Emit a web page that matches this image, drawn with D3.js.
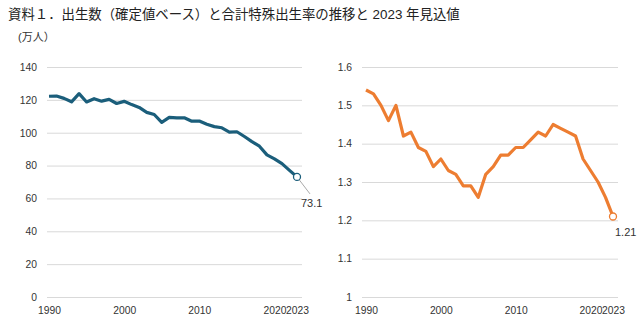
<!DOCTYPE html>
<html>
<head>
<meta charset="utf-8">
<script src="https://cdn.jsdelivr.net/npm/d3@7"></script>
<style>
  body { margin: 0; background: #fff; }
  svg text { font-family: "Liberation Sans", Arial, "Noto Sans CJK JP", sans-serif; }
  .grid line { stroke: #d9d9d9; stroke-width: 1; }
  .tick text { fill: #333; font-size: 10.3px; }
</style>
</head>
<body>
<svg id="chart" width="640" height="322"></svg>
<script>
// data
var years = d3.range(1990, 2024);
var births = [122.2, 122.3, 120.9, 118.8, 123.8, 118.7, 120.7, 119.2, 120.3, 117.8,
              119.1, 117.1, 115.4, 112.4, 111.1, 106.3, 109.3, 109.0, 109.1, 107.0,
              107.1, 105.1, 103.7, 103.0, 100.4, 100.6, 97.7, 94.6, 91.8, 86.5,
              84.1, 81.2, 77.1, 73.1];
var tfr = [1.54, 1.53, 1.50, 1.46, 1.50, 1.42, 1.43, 1.39, 1.38, 1.34,
           1.36, 1.33, 1.32, 1.29, 1.29, 1.26, 1.32, 1.34, 1.37, 1.37,
           1.39, 1.39, 1.41, 1.43, 1.42, 1.45, 1.44, 1.43, 1.42, 1.36,
           1.33, 1.30, 1.26, 1.21];
var xTicks = [1990, 2000, 2010, 2020, 2023];
var birthTicks = [0, 20, 40, 60, 80, 100, 120, 140];
var tfrTicks = [1, 1.1, 1.2, 1.3, 1.4, 1.5, 1.6];

var svg = d3.select("#chart");

svg.append("text")
  .attr("x", 8).attr("y", 19)
  .attr("font-size", "13.4px").attr("fill", "#222")
  .text("資料１．出生数（確定値ベース）と合計特殊出生率の推移と 2023 年見込値");

svg.append("text")
  .attr("x", 18).attr("y", 41)
  .attr("font-size", "11px").attr("fill", "#333")
  .text("(万人）");

// draws one small panel
function panel(opt) {
  var x = d3.scaleLinear().domain([1990, 2023]).range([opt.x0, opt.x1]);
  var y = d3.scaleLinear().domain(opt.domain).range([297, 67]);

  var g = svg.append("g");

  // gridlines + y labels
  var ya = g.append("g").attr("class", "grid")
    .attr("transform", "translate(" + opt.g0 + ",0)")
    .call(d3.axisLeft(y).tickValues(opt.ticks).tickSize(-(opt.g1 - opt.g0))
      .tickPadding(opt.pad).tickFormat(opt.fmt));
  ya.select(".domain").remove();

  // x labels
  var xa = g.append("g")
    .attr("transform", "translate(0,297)")
    .call(d3.axisBottom(x).tickValues(xTicks).tickSize(0).tickPadding(10).tickFormat(d3.format("d")));
  xa.select(".domain").remove();

  var line = d3.line()
    .x(function(d, i) { return x(years[i]); })
    .y(function(d) { return y(d); });

  g.append("path")
    .datum(opt.values)
    .attr("fill", "none")
    .attr("stroke", opt.color)
    .attr("stroke-width", 3.2)
    .attr("stroke-linejoin", "round")
    .attr("d", line);

  var last = opt.values.length - 1;
  var lx = x(years[last]), ly = y(opt.values[last]);

  if (opt.leader) {
    g.append("line")
      .attr("x1", lx).attr("y1", ly)
      .attr("x2", lx + 13).attr("y2", ly + 17)
      .attr("stroke", "#aaa").attr("stroke-width", 1);
  }

  g.append("circle")
    .attr("cx", lx).attr("cy", ly).attr("r", 3.5)
    .attr("fill", "#fff").attr("stroke", opt.color).attr("stroke-width", 1.3);

  g.append("text")
    .attr("x", lx + opt.lab[0]).attr("y", ly + opt.lab[1])
    .attr("font-size", "11px").attr("fill", "#333")
    .text(opt.label);
}

panel({
  x0: 49, x1: 297, g0: 47, g1: 302, domain: [0, 140], ticks: birthTicks,
  fmt: d3.format("d"), pad: 10, values: births, color: "#1b5e7b",
  leader: true, label: "73.1", lab: [4, 30]
});

panel({
  x0: 366, x1: 613, g0: 362, g1: 618, domain: [1, 1.6], ticks: tfrTicks,
  fmt: function(d) { return d === 1 ? "1" : d3.format(".1f")(d); }, pad: 10,
  values: tfr, color: "#ed7d31",
  leader: false, label: "1.21", lab: [2, 19]
});
</script>
</body>
</html>
